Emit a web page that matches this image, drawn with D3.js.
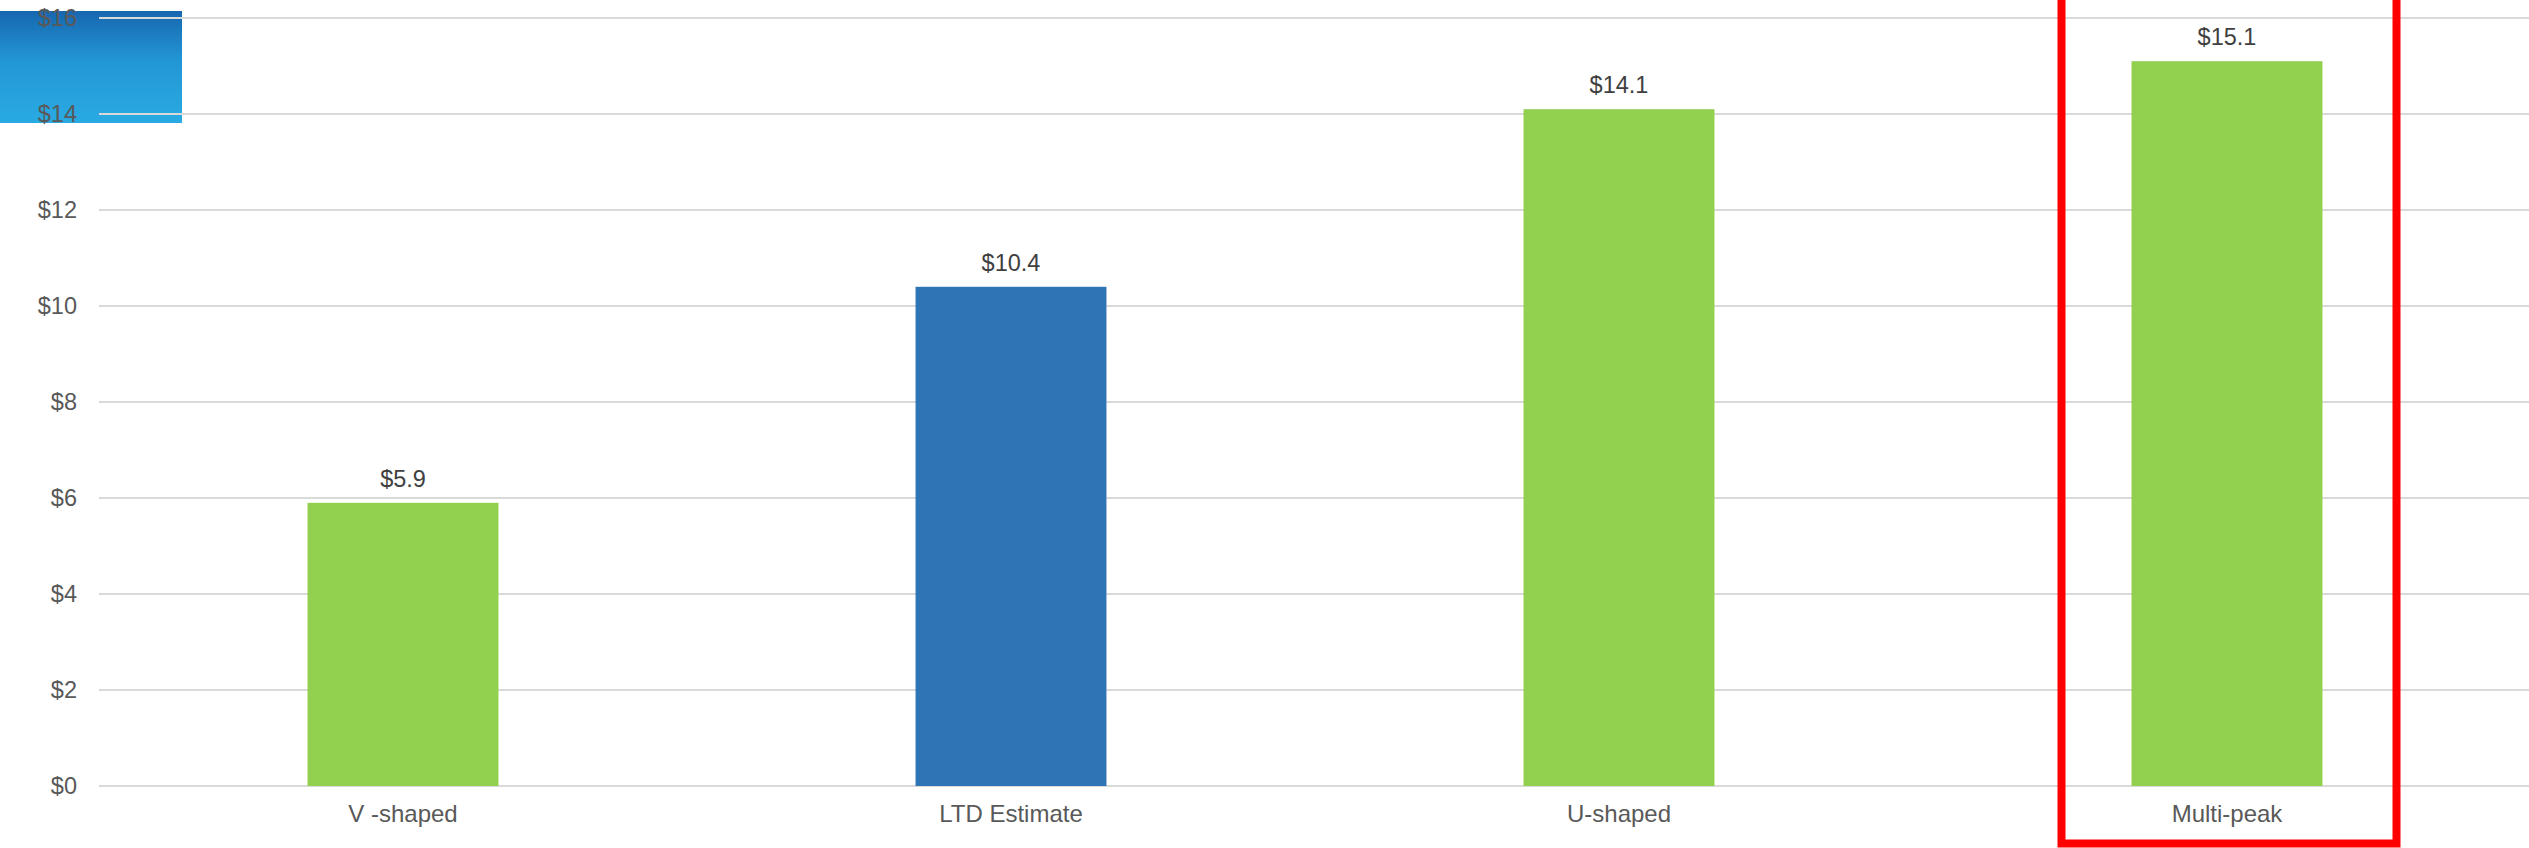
<!DOCTYPE html>
<html>
<head>
<meta charset="utf-8">
<script src="https://cdn.jsdelivr.net/npm/d3@7/dist/d3.min.js"></script>
<style>
  html, body { margin: 0; padding: 0; background: #fff; }
  svg { display: block; font-family: "Liberation Sans", Arial, sans-serif; }
</style>
</head>
<body>
<svg id="chart" width="2529" height="848"></svg>
<script>
// Chart data
const categories = ["V -shaped", "LTD Estimate", "U-shaped", "Multi-peak"];
const values = [5.9, 10.4, 14.1, 15.1];
const barColors = ["#92d050", "#2e75b6", "#92d050", "#92d050"];
const yTicks = [0, 2, 4, 6, 8, 10, 12, 14, 16];
const highlighted = "Multi-peak";

const W = 2529, H = 848;
const svg = d3.select("#chart");

const x = d3.scaleBand()
  .domain(categories)
  .range([99, 2531])
  .paddingInner(0.686)
  .paddingOuter(0.343);

const y = d3.scaleLinear()
  .domain([0, 16])
  .range([786, 18]);

// Decorative gradient block in the top-left corner
const defs = svg.append("defs");
const grad = defs.append("linearGradient")
  .attr("id", "cornerGrad")
  .attr("x1", 0).attr("y1", 0).attr("x2", 0).attr("y2", 1);
grad.append("stop").attr("offset", "0%").attr("stop-color", "#1767b0");
grad.append("stop").attr("offset", "45%").attr("stop-color", "#2397d5");
grad.append("stop").attr("offset", "100%").attr("stop-color", "#29aae2");
svg.append("rect")
  .attr("x", 0).attr("y", 11)
  .attr("width", 182).attr("height", 112)
  .attr("fill", "url(#cornerGrad)");

// Horizontal gridlines
svg.append("g")
  .selectAll("line")
  .data(yTicks)
  .join("line")
  .attr("x1", 99).attr("x2", W)
  .attr("y1", d => y(d)).attr("y2", d => y(d))
  .attr("stroke", "#d9d9d9")
  .attr("stroke-width", 2);

// Y axis labels
svg.append("g")
  .selectAll("text")
  .data(yTicks)
  .join("text")
  .attr("x", 77)
  .attr("y", d => y(d))
  .attr("dy", "0.35em")
  .attr("text-anchor", "end")
  .attr("font-size", 23.5)
  .attr("fill", "#595959")
  .text(d => "$" + d);

// Bars
svg.append("g")
  .selectAll("rect")
  .data(categories)
  .join("rect")
  .attr("x", d => x(d))
  .attr("width", x.bandwidth())
  .attr("y", (d, i) => y(values[i]))
  .attr("height", (d, i) => y(0) - y(values[i]))
  .attr("fill", (d, i) => barColors[i]);

// Value labels
svg.append("g")
  .selectAll("text")
  .data(categories)
  .join("text")
  .attr("x", d => x(d) + x.bandwidth() / 2)
  .attr("y", (d, i) => y(values[i]) - 16)
  .attr("text-anchor", "middle")
  .attr("font-size", 23.5)
  .attr("fill", "#404040")
  .text((d, i) => "$" + values[i].toFixed(1));

// Category labels
svg.append("g")
  .selectAll("text")
  .data(categories)
  .join("text")
  .attr("x", d => x(d) + x.bandwidth() / 2)
  .attr("y", 822)
  .attr("text-anchor", "middle")
  .attr("font-size", 24)
  .attr("fill", "#595959")
  .text(d => d);

// Highlight frame around the last category
const hx = x(highlighted) + x.bandwidth() / 2;
svg.append("rect")
  .attr("x", hx - 165.5)
  .attr("y", -20)
  .attr("width", 335)
  .attr("height", 863.5)
  .attr("fill", "none")
  .attr("stroke", "#ff0000")
  .attr("stroke-width", 8);
</script>
</body>
</html>
